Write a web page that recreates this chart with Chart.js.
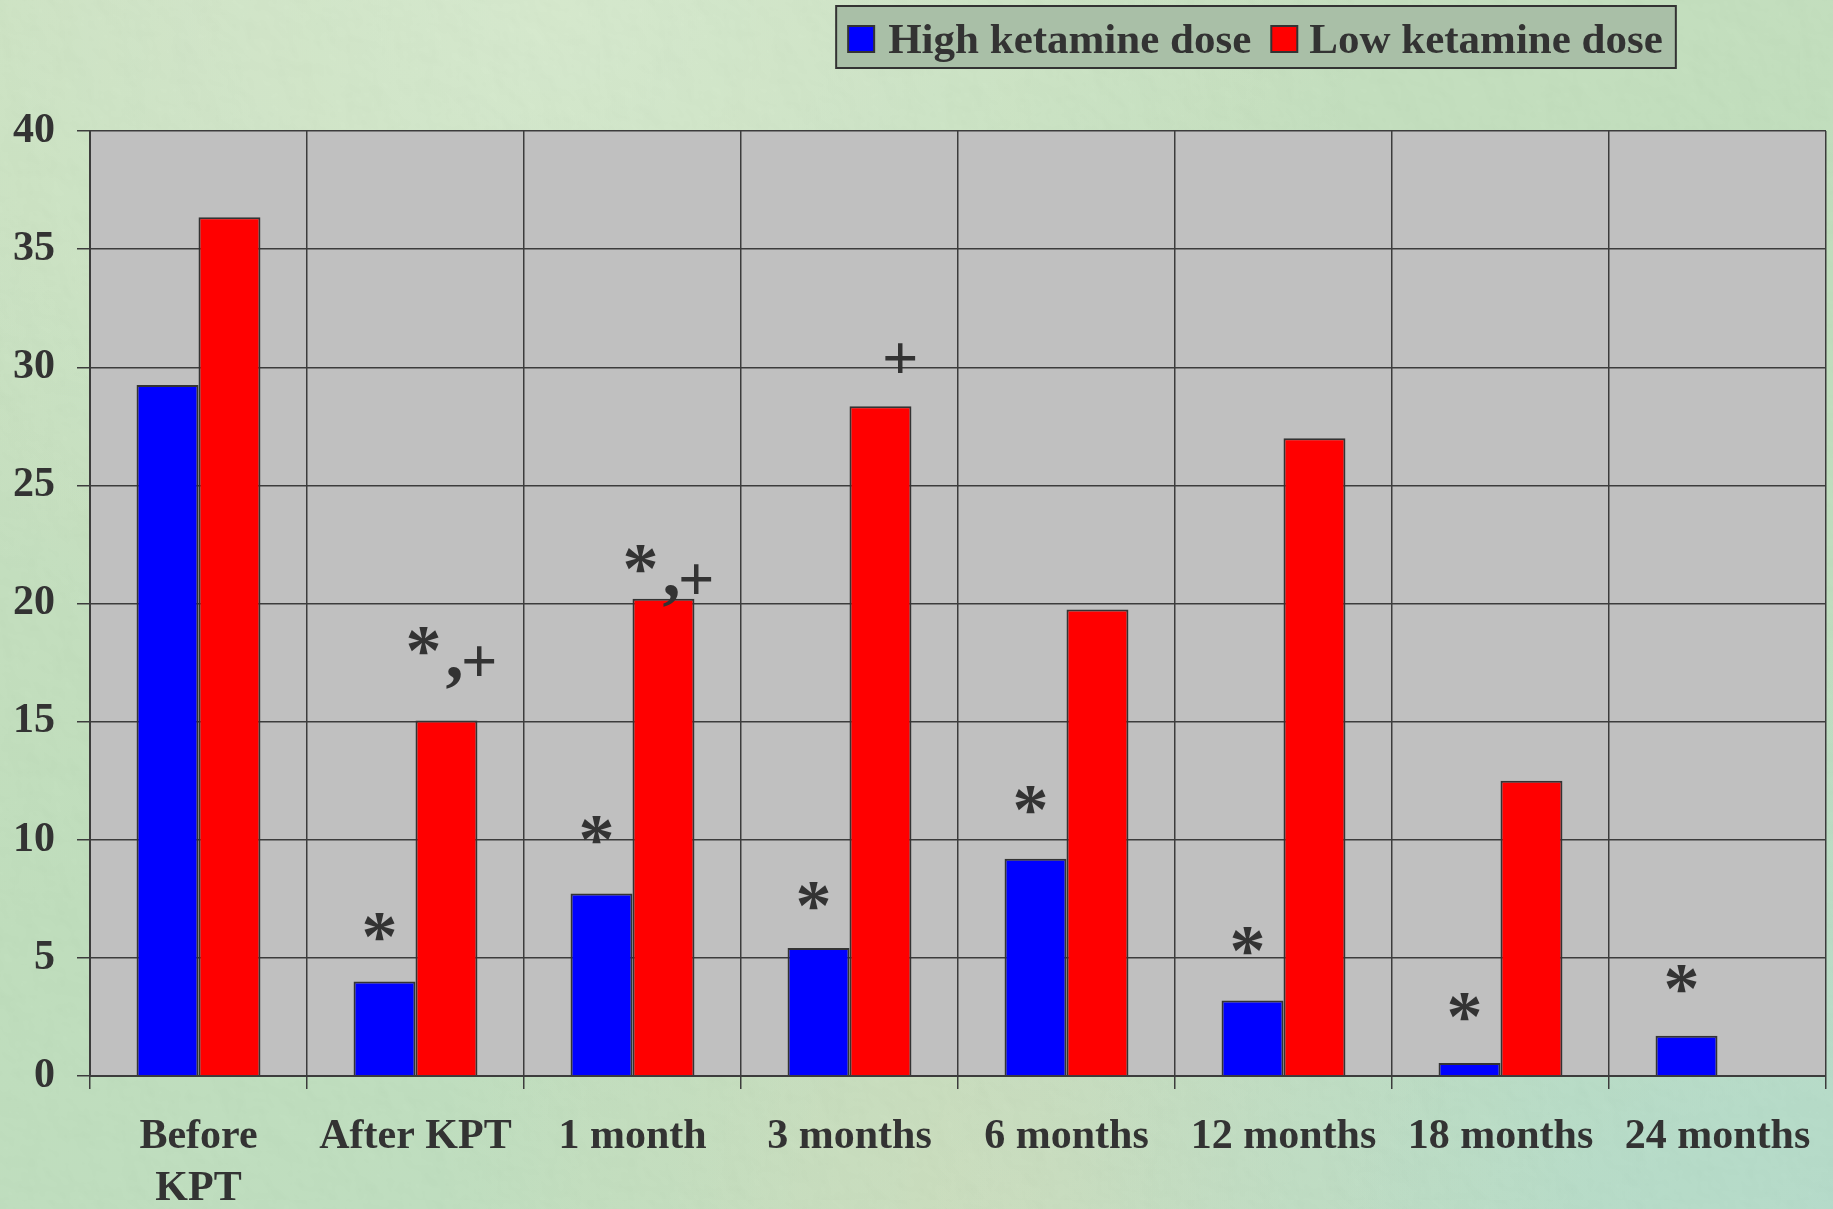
<!DOCTYPE html>
<html>
<head>
<meta charset="utf-8">
<title>High vs low ketamine dose</title>
<script src="https://cdn.jsdelivr.net/npm/chart.js@4/dist/chart.umd.min.js"></script>
<style>
html, body { margin: 0; padding: 0; }
body {
	width: 1833px; height: 1209px; overflow: hidden;
	background-color: #b9dab4;
	background-image:
		url("data:image/svg+xml;utf8,<svg xmlns='http://www.w3.org/2000/svg' width='600' height='600'><filter id='n'><feTurbulence type='fractalNoise' baseFrequency='0.03' numOctaves='3'/><feDiffuseLighting lighting-color='white' surfaceScale='1.5'><feDistantLight azimuth='135' elevation='55'/></feDiffuseLighting></filter><rect width='100%' height='100%' filter='url(%23n)' opacity='0.18'/></svg>"),
		radial-gradient(ellipse at 30% 0%, rgba(214,234,204,0.7), transparent 45%),
		radial-gradient(ellipse at 100% 100%, rgba(160,212,200,0.6), transparent 35%),
		radial-gradient(ellipse at 55% 100%, rgba(206,216,176,0.6), transparent 40%),
		linear-gradient(160deg, #c2ddb6 0%, #b5d9b1 50%, #b4dab8 100%);
}
#wrap { position: relative; width: 1833px; height: 1209px; }
</style>
</head>
<body>
<div id="wrap"><canvas id="mycanvas" width="1833" height="1209"></canvas></div>
<script>
// values
var categories = [["Before", "KPT"], "After KPT", "1 month", "3 months", "6 months", "12 months", "18 months", "24 months"];
var highDose = [29.25, 4.0, 7.72, 5.42, 9.2, 3.2, 0.55, 1.7];
var lowDose = [36.35, 15.05, 20.2, 28.35, 19.75, 27.0, 12.5, null];
var yMin = 0, yMax = 40, yStep = 5;

// significance marks and the height (in axis units) where they sit
var highMarks = ["", "*", "*", "*", "*", "*", "*", "*"];
var highMarkY = [null, 6.3, 10.4, 7.6, 11.7, 5.7, 2.9, 4.1];
var lowMarks = ["", "*,+", "*,+", "+", "", "", "", ""];
var lowMarkY = [null, 18.4, 21.9, 30.4, null, null, null, null];

var ink = '#333333';
var lineCol = '#3c3c3c';
var serif = "'Liberation Serif', 'Times New Roman', serif";
var starFont = 'bold 72px ' + serif;
var plusFont = 'bold 64px ' + serif;
var commaFont = 'bold 72px ' + serif;

function glyph(ctx, t, cx, cy) {
	// draw a glyph with its ink box centred on cx, cy
	var m = ctx.measureText(t);
	var x0 = cx - (m.actualBoundingBoxRight - m.actualBoundingBoxLeft) / 2;
	var y0 = cy + (m.actualBoundingBoxAscent - m.actualBoundingBoxDescent) / 2;
	ctx.fillText(t, x0, y0);
}

var plotBg = {
	id: 'plotBg',
	beforeDraw: function(chart) {
		var a = chart.chartArea, ctx = chart.ctx;
		ctx.save();
		ctx.fillStyle = '#c0c0c0';
		ctx.fillRect(a.left, a.top, a.right - a.left, a.bottom - a.top);
		ctx.restore();
	}
};

var marks = {
	id: 'marks',
	afterDatasetsDraw: function(chart) {
		var ctx = chart.ctx, y = chart.scales.y;
		ctx.save();
		ctx.fillStyle = ink;
		ctx.textAlign = 'left';
		ctx.textBaseline = 'alphabetic';
		var hi = chart.getDatasetMeta(0).data;
		var lo = chart.getDatasetMeta(1).data;
		for (var i = 0; i < categories.length; i++) {
			if (highMarks[i]) {
				ctx.font = starFont;
				glyph(ctx, '*', hi[i].x - 5, y.getPixelForValue(highMarkY[i]));
			}
			if (lowMarks[i] == '+') {
				ctx.font = plusFont;
				glyph(ctx, '+', lo[i].x + 20, y.getPixelForValue(lowMarkY[i]));
			} else if (lowMarks[i] == '*,+') {
				var sx = lo[i].x - 23, sy = y.getPixelForValue(lowMarkY[i]);
				ctx.font = starFont;
				glyph(ctx, '*', sx, sy);
				ctx.font = commaFont;
				glyph(ctx, ',', sx + 30, sy + 37);
				ctx.font = plusFont;
				glyph(ctx, '+', sx + 56, sy + 20);
			}
		}
		ctx.restore();
	}
};

var boxLegend = {
	id: 'boxLegend',
	afterDraw: function(chart) {
		var ctx = chart.ctx;
		var ds = chart.data.datasets;
		ctx.save();
		ctx.font = 'bold 43px ' + serif;
		var w0 = ctx.measureText(ds[0].label).width;
		var w1 = ctx.measureText(ds[1].label).width;
		var total = 12 + 26 + 14 + w0 + 20 + 26 + 12 + w1 + 13;
		var left = 1256 - total / 2, top = 6, h = 62;
		ctx.fillStyle = '#a9bfa7';
		ctx.fillRect(left, top, total, h);
		ctx.strokeStyle = ink;
		ctx.lineWidth = 2;
		ctx.strokeRect(left, top, total, h);
		var x = left + 12;
		for (var k = 0; k < 2; k++) {
			ctx.fillStyle = ds[k].backgroundColor;
			ctx.fillRect(x, 26, 26, 26);
			ctx.strokeRect(x, 26, 26, 26);
			x += 26 + (k == 0 ? 14 : 12);
			ctx.fillStyle = ink;
			ctx.textBaseline = 'alphabetic';
			ctx.fillText(ds[k].label, x, 53);
			x += (k == 0 ? w0 : w1) + 20;
		}
		ctx.restore();
	}
};

var chartdata = {
	labels: categories,
	datasets: [
		{
			label: 'High ketamine dose',
			backgroundColor: '#0000ff',
			borderColor: ink,
			borderWidth: 2,
			borderSkipped: 'bottom',
			data: highDose
		},
		{
			label: 'Low ketamine dose',
			backgroundColor: '#ff0000',
			borderColor: ink,
			borderWidth: 2,
			borderSkipped: 'bottom',
			data: lowDose
		}
	]
};

var tickFont = { family: serif, size: 42, weight: 'bold', lineHeight: 1.24 };

var ctx = document.getElementById('mycanvas');
var barGraph = new Chart(ctx, {
	type: 'bar',
	data: chartdata,
	options: {
		responsive: false,
		animation: false,
		devicePixelRatio: 1,
		categoryPercentage: 0.571,
		barPercentage: 1,
		layout: { padding: { left: 0, right: 7, top: 131, bottom: 0 } },
		plugins: {
			legend: { display: false },
			tooltip: { enabled: false }
		},
		scales: {
			x: {
				grid: { offset: true, color: lineCol, lineWidth: 1.5, tickLength: 13, tickColor: lineCol },
				border: { color: lineCol, width: 2 },
				ticks: { font: tickFont, color: ink, padding: 22, maxRotation: 0, autoSkip: false },
				afterFit: function(s) { s.height = 133; }
			},
			y: {
				min: yMin,
				max: yMax,
				grid: { color: lineCol, lineWidth: 1.5, tickLength: 13, tickColor: lineCol },
				border: { color: lineCol, width: 2 },
				ticks: { stepSize: yStep, font: tickFont, color: ink, padding: 22 },
				afterFit: function(s) { s.width = 90; }
			}
		}
	},
	plugins: [plotBg, marks, boxLegend]
});
</script>
</body>
</html>
